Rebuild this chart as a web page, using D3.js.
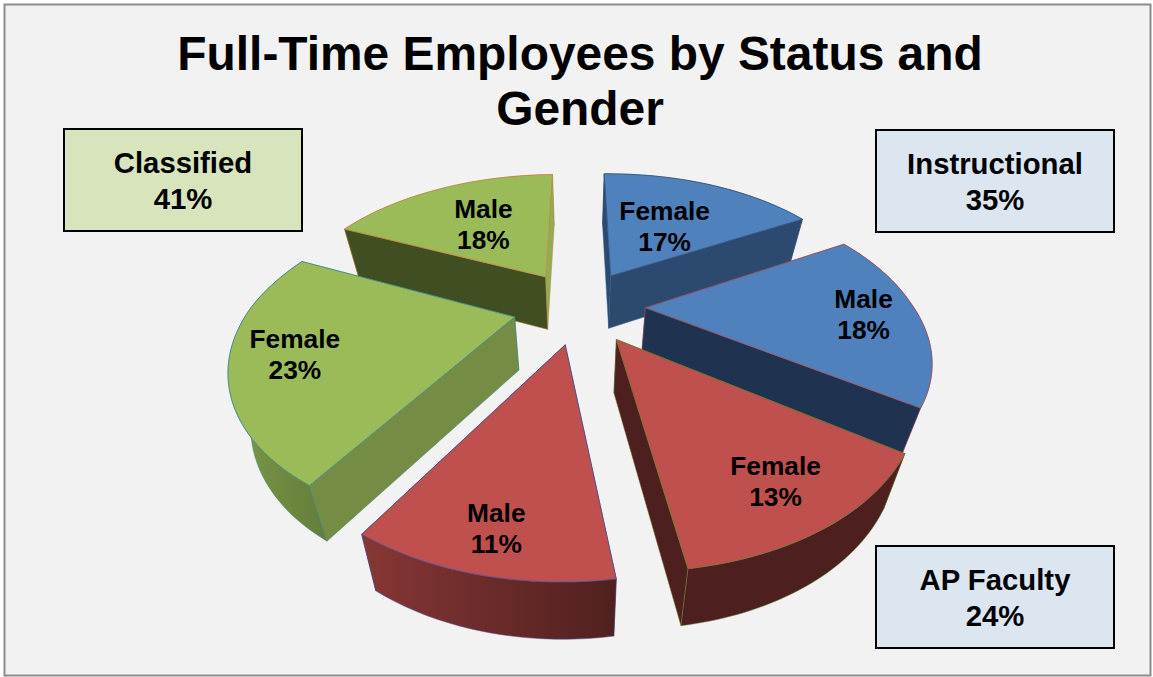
<!DOCTYPE html>
<html>
<head>
<meta charset="utf-8">
<script src="https://cdn.jsdelivr.net/npm/d3@7"></script>
<style>
	html, body { margin: 0; padding: 0; background: #fff; }
	svg { display: block; }
	text { font-family: "Liberation Sans", Arial, sans-serif; font-weight: bold; fill: #000; text-anchor: middle; }
</style>
</head>
<body>
<svg id="chart" width="1153" height="677"></svg>
<script>
'use strict';

// data, clockwise from 12 o'clock
var titleLines = ['Full-Time Employees by Status and', 'Gender'];
var groups = ['Instructional', 'Instructional', 'AP Faculty', 'AP Faculty', 'Classified', 'Classified'];
var genders = ['Female', 'Male', 'Female', 'Male', 'Female', 'Male'];
var percents = [17, 18, 13, 11, 23, 18];

// slice styles, same order as the data
var topColors = ['#4f81bd', '#4f81bd', '#c0504d', '#c0504d', '#9bbb59', '#9bbb59'];
var wallColors = ['#2c4a70', '#1f3350', '#4d1f1e', '#4f201f', '#748c43', '#414e22'];
var endWallColors = ['#2c4a70', '#1f3350', '#4d1f1e', '#4f201f', '#748c43', '#90ad54'];
var rimLeftColors = ['#2c4a70', '#1f3350', '#4d1f1e', '#863735', '#7c9a46', '#414e22'];
var rimRightColors = ['#2c4a70', '#1f3350', '#4d1f1e', '#4f201f', '#647c3b', '#414e22'];
var edgeColors = ['#35587f', '#a0505e', '#6d7a30', '#4a5090', '#3d8a8c', '#c58c45'];
var labelRadii = [0.49, 0.79, 0.79, 0.83, 0.77, 0.54];

// call-out boxes
var boxes = [
	{ name: 'Classified', x: 64, y: 129, fill: '#d8e4bc' },
	{ name: 'Instructional', x: 876, y: 130, fill: '#dce6f1' },
	{ name: 'AP Faculty', x: 876, y: 546, fill: '#dce6f1' }
];
var boxWidth = 238;
var boxHeight = 102;

// projection of the tilted pie: u to the right, v towards the viewer, radius 1
var centerX = 579;
var centerY = 306;
var scaleU = 270;
var scaleV = 147.6;
var perspective = 0.282;
var explodeU = 0.245;
var explodeV = 0.25;
var radiusU = 0.985;
var radiusV = 0.98;
var shrink = 0.935;
var skew = 7;
var roll = -0.008;

function project(u, v, lower) {
	var s = 1 / (1 - perspective * v);
	var x = scaleU * u * s + skew * Math.max(v, 0);
	var y = centerY + scaleV * v * s + roll * x;
	if (lower) {
		x *= shrink;
		y += 45 + 8 * s;
	}
	return [centerX + x, y];
}

var svg = d3.select('#chart');
var defs = svg.append('defs');
var line = d3.line();

svg.append('rect')
	.attr('x', 4.5).attr('y', 4.5)
	.attr('width', 1146).attr('height', 671)
	.attr('fill', '#f2f2f2')
	.attr('stroke', '#8c8c8c')
	.attr('stroke-width', 2);

svg.selectAll('.title')
	.data(titleLines)
	.enter()
	.append('text')
	.attr('class', 'title')
	.attr('x', 580)
	.attr('y', function(d, i) { return 70 + i * 55; })
	.attr('font-size', 47.9)
	.text(function(d) { return d; });

var pie = d3.pie().sort(null).value(function(d) { return d; });
var arcs = pie(percents).map(function(a, i) {
	var mid = (a.startAngle + a.endAngle) / 2;
	var offU = explodeU * Math.sin(mid);
	var offV = -explodeV * Math.cos(mid);
	var rim = d3.range(0, 41).map(function(k) {
		var t = a.startAngle + (a.endAngle - a.startAngle) * k / 40;
		return [offU + radiusU * Math.sin(t), offV - radiusV * Math.cos(t)];
	});
	return { i: i, mid: mid, offU: offU, offV: offV, rim: rim };
});

// back slices first
arcs.sort(function(a, b) {
	return project(a.offU, a.offV)[1] - project(b.offU, b.offV)[1];
});

function meanY(pts) {
	return d3.mean(pts, function(p) { return p[1]; });
}

arcs.forEach(function(d) {
	var g = svg.append('g').attr('class', 'slice');
	var apex = [d.offU, d.offV];
	var first = d.rim[0];
	var last = d.rim[d.rim.length - 1];
	var topRim = d.rim.map(function(p) { return project(p[0], p[1]); });
	var lowRim = d.rim.map(function(p) { return project(p[0], p[1], true); });

	var gradId = 'rim-' + d.i;
	var grad = defs.append('linearGradient').attr('id', gradId);
	grad.append('stop').attr('offset', 0).attr('stop-color', rimLeftColors[d.i]);
	grad.append('stop').attr('offset', 1).attr('stop-color', rimRightColors[d.i]);

	function wall(p) {
		return [
			project(apex[0], apex[1]), project(p[0], p[1]),
			project(p[0], p[1], true), project(apex[0], apex[1], true)
		];
	}

	var faces = [
		{ pts: wall(first), fill: wallColors[d.i] },
		{ pts: wall(last), fill: endWallColors[d.i] },
		{ pts: topRim.concat(lowRim.slice().reverse()), fill: 'url(#' + gradId + ')' }
	];
	faces.sort(function(a, b) { return meanY(a.pts) - meanY(b.pts); });

	g.selectAll('.side')
		.data(faces)
		.enter()
		.append('path')
		.attr('class', 'side')
		.attr('d', function(f) { return line(f.pts) + 'Z'; })
		.attr('fill', function(f) { return f.fill; })
		.attr('stroke', edgeColors[d.i])
		.attr('stroke-width', 0.5)
		.attr('stroke-linejoin', 'round');

	g.append('path')
		.attr('class', 'top')
		.attr('d', line([project(apex[0], apex[1])].concat(topRim)) + 'Z')
		.attr('fill', topColors[d.i])
		.attr('stroke', edgeColors[d.i])
		.attr('stroke-width', 0.8)
		.attr('stroke-linejoin', 'round');
});

// slice labels go on top of every slice
arcs.forEach(function(d) {
	var r = labelRadii[d.i];
	var pos = project(d.offU + r * Math.sin(d.mid), d.offV - r * Math.cos(d.mid));
	var label = svg.append('g').attr('class', 'slice-label');
	label.append('text')
		.attr('x', pos[0]).attr('y', pos[1] - 6)
		.attr('font-size', 26.3)
		.text(genders[d.i]);
	label.append('text')
		.attr('x', pos[0]).attr('y', pos[1] + 25)
		.attr('font-size', 26.3)
		.text(percents[d.i] + '%');
});

var box = svg.selectAll('.box')
	.data(boxes)
	.enter()
	.append('g')
	.attr('class', 'box');

box.append('rect')
	.attr('x', function(d) { return d.x; })
	.attr('y', function(d) { return d.y; })
	.attr('width', boxWidth)
	.attr('height', boxHeight)
	.attr('fill', function(d) { return d.fill; })
	.attr('stroke', '#000')
	.attr('stroke-width', 2);

box.append('text')
	.attr('x', function(d) { return d.x + boxWidth / 2; })
	.attr('y', function(d) { return d.y + 44; })
	.attr('font-size', 29.3)
	.text(function(d) { return d.name; });

box.append('text')
	.attr('x', function(d) { return d.x + boxWidth / 2; })
	.attr('y', function(d) { return d.y + 80; })
	.attr('font-size', 29.3)
	.text(function(d) {
		var total = d3.sum(percents.filter(function(p, i) { return groups[i] === d.name; }));
		return total + '%';
	});
</script>
</body>
</html>
